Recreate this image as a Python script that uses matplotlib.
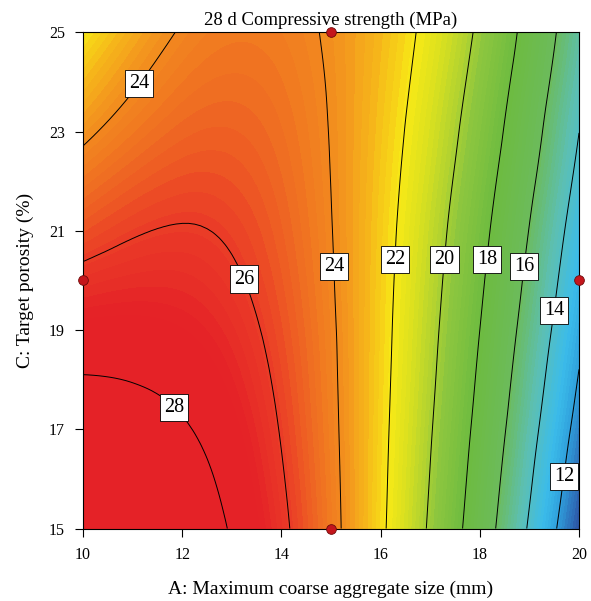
import numpy as np
import matplotlib
matplotlib.use("Agg")
import matplotlib.pyplot as plt
import matplotlib.tri as mtri
from matplotlib.colors import LinearSegmentedColormap

# grid nodes
A_nodes = [10, 12, 14, 16, 18, 20]          # max coarse aggregate size (mm)
C_nodes = [15, 17, 19, 21, 23, 25]          # target porosity (%)
# 28 d compressive strength (MPa), one row per C node (bottom -> top)
strength = [
    [30.70, 29.10, 26.30, 22.26, 16.98, 10.48],
    [28.96, 28.15, 25.92, 22.36, 17.50, 11.45],
    [27.22, 27.05, 25.54, 22.45, 18.00, 12.35],
    [25.48, 26.07, 25.16, 22.55, 18.50, 13.18],
    [23.74, 25.05, 24.78, 22.72, 19.10, 14.01],
    [22.00, 24.10, 24.38, 22.92, 19.72, 14.79],
]
contour_levels = [12, 14, 16, 18, 20, 22, 24, 26, 28]

# design points
pts_A = [15, 10, 20, 15]
pts_C = [25, 20, 20, 15]

# label spots (data coords)
label_spots = [(10.91, 24.14), (13.25, 20.03), (11.88, 17.48), (15.08, 20.28),
               (16.32, 20.42), (17.30, 20.42), (18.15, 20.42), (18.89, 20.28),
               (19.46, 19.40), (19.67, 16.06)]

# Design-Expert like colour ramp
ramp_vals = [10.4, 12.0, 13.0, 14.5, 16.0, 18.0, 19.5, 21.0, 22.0, 23.0, 24.0, 25.0, 26.0, 27.0, 31.0]
ramp_cols = ["#2c4c9f", "#2f9fdc", "#3bbcea", "#5cbfb3", "#6cbb5c", "#6dbb40", "#8cc63f",
             "#d3de22", "#f7e916", "#f6b51a", "#f2891f", "#ef6a22", "#ea3c27", "#e52227", "#e52227"]

vmin, vmax = ramp_vals[0], ramp_vals[-1]
cmap = LinearSegmentedColormap.from_list(
    "de", [((v - vmin) / (vmax - vmin), c) for v, c in zip(ramp_vals, ramp_cols)])

AA, CC = np.meshgrid(A_nodes, C_nodes)
Z = np.array(strength)
tri = mtri.Triangulation(AA.ravel(), CC.ravel())
interp = mtri.CubicTriInterpolator(tri, Z.ravel())
refiner = mtri.UniformTriRefiner(tri)
tri_f, z_f = refiner.refine_field(Z.ravel(), triinterpolator=interp, subdiv=4)

plt.rcParams['font.family'] = ['Liberation Serif', 'DejaVu Serif']

fig = plt.figure(figsize=(5.91, 6.01), dpi=100)
ax = fig.add_axes([0.1404, 0.1206, 0.8393, 0.8257])

ax.tricontourf(tri_f, z_f, levels=np.linspace(vmin, vmax, 110), cmap=cmap,
               vmin=vmin, vmax=vmax, antialiased=False)
cs = ax.tricontour(tri_f, z_f, levels=contour_levels, colors="black", linewidths=0.7)
texts = ax.clabel(cs, inline=False, fmt="%d", fontsize=14.5, manual=label_spots)
for t in texts:
    t.set_rotation(0)
    t.set_bbox(dict(boxstyle="square,pad=0.2", fc="white", ec="black", lw=0.6))
    t.set_zorder(5)

ax.plot(pts_A, pts_C, "o", color="#c4161c", markeredgecolor="#6e0b0b",
        markersize=7, markeredgewidth=0.6, clip_on=False, zorder=6)

ax.set_xlim(10, 20)
ax.set_ylim(15, 25)
ax.set_xticks([10, 12, 14, 16, 18, 20])
ax.set_yticks([15, 17, 19, 21, 23, 25])
ax.tick_params(direction="out", length=6, width=0.8, labelsize=11.5, pad=7)
for s in ax.spines.values():
    s.set_linewidth(0.8)

ax.set_title("28 d Compressive strength (MPa)", fontsize=13.5, pad=5)
ax.set_xlabel("A: Maximum coarse aggregate size (mm)", fontsize=14, labelpad=13)
ax.set_ylabel("C: Target porosity (%)", fontsize=14, labelpad=11)

fig.savefig("out.png", dpi=100)
